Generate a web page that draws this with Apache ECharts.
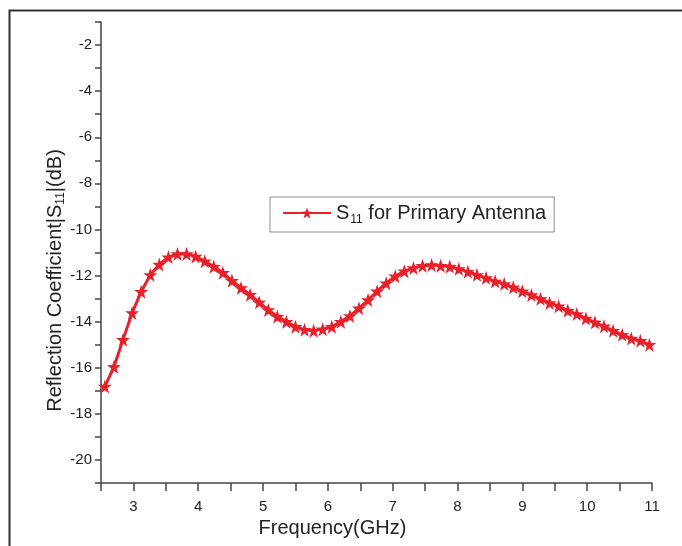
<!DOCTYPE html>
<html>
<head>
<meta charset="utf-8">
<script src="https://cdn.jsdelivr.net/npm/echarts@6/dist/echarts.min.js"></script>
<style>html,body{margin:0;padding:0;background:#fff}#c{width:682px;height:546px}</style>
</head>
<body>
<div id="c"></div>
<script>
var frequency = [2.56, 2.70, 2.84, 2.98, 3.12, 3.26, 3.40, 3.54, 3.68, 3.82, 3.96, 4.10, 4.24, 4.38, 4.52, 4.66, 4.80, 4.94, 5.08, 5.22, 5.36, 5.50, 5.64, 5.78, 5.92, 6.06, 6.20, 6.34, 6.48, 6.62, 6.76, 6.90, 7.04, 7.18, 7.32, 7.46, 7.60, 7.74, 7.88, 8.02, 8.16, 8.30, 8.44, 8.58, 8.72, 8.86, 9.00, 9.14, 9.28, 9.42, 9.56, 9.70, 9.84, 9.98, 10.12, 10.26, 10.40, 10.54, 10.68, 10.82, 10.96];
var s11 = [-16.81, -15.96, -14.78, -13.62, -12.70, -11.97, -11.52, -11.20, -11.06, -11.06, -11.17, -11.38, -11.61, -11.88, -12.22,
  -12.54, -12.83, -13.16, -13.49, -13.78, -14.00, -14.22, -14.35, -14.39, -14.33, -14.22, -14.00, -13.75, -13.42, -13.06,
  -12.68, -12.33, -12.03, -11.81, -11.67, -11.57, -11.54, -11.57, -11.61, -11.71, -11.83, -11.97, -12.10, -12.25, -12.36,
  -12.51, -12.68, -12.84, -13.01, -13.19, -13.33, -13.52, -13.67, -13.86, -14.03, -14.20, -14.39, -14.57, -14.73, -14.83, -15.00];
var seriesName = 'S11 for Primary Antenna';

var data = frequency.map(function (f, i) { return [f, s11[i]]; });
var chart = echarts.init(document.getElementById('c'), null, {renderer: 'canvas'});
var txt = '#222';
var axisCol = '#444';
var F = 'Liberation Sans';
chart.setOption({
  animation: false,
  backgroundColor: '#fff',
  textStyle: {fontFamily: 'Liberation Sans, Arial, sans-serif'},
  graphic: [{
    type: 'rect', left: 7, top: 8, z: 100, silent: true,
    shape: {x: 0, y: 0, width: 700, height: 600},
    style: {fill: 'none', stroke: '#333', lineWidth: 2}
  }],
  grid: {left: 101, right: 30, top: 22, bottom: 63, containLabel: false},
  legend: {
    left: 270, top: 197,
    padding: [6, 8, 6, 12],
    borderColor: '#8a8a8a', borderWidth: 1, backgroundColor: '#fff',
    itemWidth: 48, itemHeight: 14, itemGap: 6,
    formatter: function () { return '{a|S}{sub|11}{a| for Primary Antenna}'; },
    textStyle: {
      color: txt, fontSize: 20,
      rich: {
        a: {fontSize: 20, color: txt, fontFamily: F, verticalAlign: 'middle'},
        sub: {fontSize: 12, color: txt, fontFamily: F, padding: [14, 0, 0, 1]}
      }
    },
    data: [seriesName]
  },
  xAxis: {
    type: 'value', min: 2.5, max: 11, interval: 0.5,
    name: 'Frequency(GHz)', nameLocation: 'middle', nameGap: 33,
    nameTextStyle: {fontSize: 20, color: txt, fontFamily: F, padding: [0, 88, 0, 0]},
    axisLine: {show: true, onZero: false, lineStyle: {color: axisCol, width: 1.5}},
    axisTick: {show: true, length: 8, lineStyle: {color: axisCol, width: 1.5}},
    axisLabel: {fontSize: 15, color: txt, margin: 16,
      formatter: function (v) { return (Math.abs(v - Math.round(v)) < 1e-6 && v >= 3) ? String(Math.round(v)) : ''; }},
    splitLine: {show: false}
  },
  yAxis: {
    type: 'value', min: -21, max: -1, interval: 1,
    name: '{a|Reflection Coefficient|S}{sub|11}{a||(dB)}', nameLocation: 'middle', nameGap: 34,
    nameMoveOverlap: false,
    nameTextStyle: {fontSize: 20, color: txt, fontFamily: F, padding: [0, 56, 0, 0],
      rich: {
        a: {fontSize: 20, color: txt, fontFamily: F},
        sub: {fontSize: 12, color: txt, fontFamily: F, padding: [12, 0, 0, 0]}
      }},
    axisLine: {show: true, onZero: false, lineStyle: {color: axisCol, width: 1.5}},
    axisTick: {show: true, length: 6, lineStyle: {color: axisCol, width: 1.5}},
    axisLabel: {fontSize: 15, color: txt, margin: 9,
      formatter: function (v) { return (Math.round(v) % 2 === 0 && v <= -2) ? String(v) : ''; }},
    splitLine: {show: false}
  },
  series: [{
    name: seriesName, type: 'line', data: data,
    symbol: 'path://M50,0 L61.8,35.1 L98.9,35.5 L69.1,57.6 L79.4,93.1 L50,72 L20.6,93.1 L30.9,57.6 L1.1,35.5 L38.2,35.1 Z',
    symbolSize: 14, showAllSymbol: true,
    lineStyle: {color: '#e8202a', width: 3},
    itemStyle: {color: '#e8202a', borderWidth: 0}
  }]
});
</script>
</body>
</html>
